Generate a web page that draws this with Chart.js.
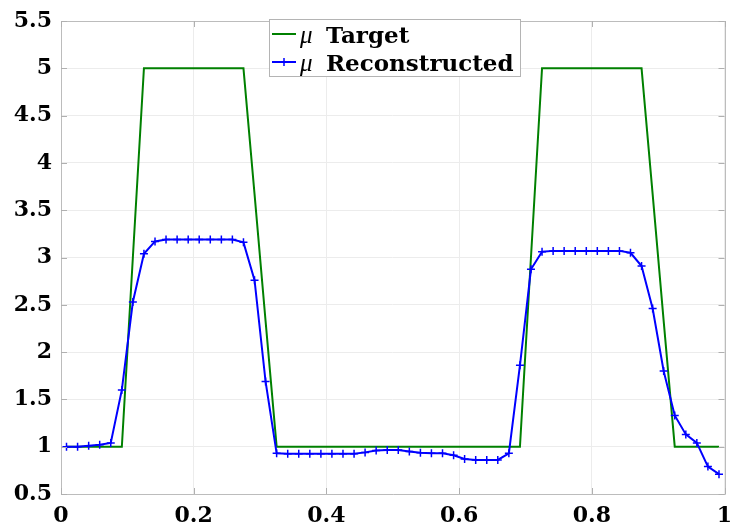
<!DOCTYPE html>
<html>
<head>
<meta charset="utf-8">
<script src="https://cdn.jsdelivr.net/npm/chart.js@4.4.1/dist/chart.umd.min.js"></script>
<style>
  html, body { margin: 0; padding: 0; background: #ffffff; }
  #wrap { width: 730px; height: 527px; }
</style>
</head>
<body>
<div id="wrap"><canvas id="c" width="730" height="527"></canvas></div>
<script>
// Sample positions along the domain
const xPositions = [
  0.0083, 0.0250, 0.0417, 0.0583, 0.0750, 0.0917, 0.1083, 0.1250, 0.1417, 0.1583,
  0.1750, 0.1917, 0.2083, 0.2250, 0.2417, 0.2583, 0.2750, 0.2917, 0.3083, 0.3250,
  0.3417, 0.3583, 0.3750, 0.3917, 0.4083, 0.4250, 0.4417, 0.4583, 0.4750, 0.4917,
  0.5083, 0.5250, 0.5417, 0.5583, 0.5750, 0.5917, 0.6083, 0.6250, 0.6417, 0.6583,
  0.6750, 0.6917, 0.7083, 0.7250, 0.7417, 0.7583, 0.7750, 0.7917, 0.8083, 0.8250,
  0.8417, 0.8583, 0.8750, 0.8917, 0.9083, 0.9250, 0.9417, 0.9583, 0.9750, 0.9917
];

// Target mu profile
const muTarget = [
  1, 1, 1, 1, 1, 1, 3, 5, 5, 5,
  5, 5, 5, 5, 5, 5, 5, 3.67, 2.33, 1,
  1, 1, 1, 1, 1, 1, 1, 1, 1, 1,
  1, 1, 1, 1, 1, 1, 1, 1, 1, 1,
  1, 1, 3, 5, 5, 5, 5, 5, 5, 5,
  5, 5, 5, 3.67, 2.33, 1, 1, 1, 1, 1
];

// Reconstructed mu profile
const muReconstructed = [
  1.00, 1.00, 1.01, 1.02, 1.04, 1.60, 2.53, 3.04, 3.17, 3.19,
  3.19, 3.19, 3.19, 3.19, 3.19, 3.19, 3.16, 2.76, 1.69, 0.93,
  0.925, 0.925, 0.925, 0.925, 0.925, 0.925, 0.925, 0.94, 0.96, 0.965,
  0.965, 0.95, 0.935, 0.93, 0.93, 0.91, 0.87, 0.86, 0.86, 0.86,
  0.93, 1.86, 2.875, 3.06, 3.07, 3.07, 3.07, 3.07, 3.07, 3.07,
  3.07, 3.05, 2.91, 2.46, 1.80, 1.33, 1.13, 1.04, 0.79, 0.71
];

// Axis tick values
const xTicks = [0, 0.2, 0.4, 0.6, 0.8, 1];
const yTicks = [0.5, 1, 1.5, 2, 2.5, 3, 3.5, 4, 4.5, 5, 5.5];

const seriesLabels = ['Target', 'Reconstructed'];
const seriesColors = ['#008000', '#0000ff'];

const FONT = '"DejaVu Serif", "Liberation Serif", serif';
const AXIS_COLOR = '#bcbcbc';
const GRID_COLOR = '#ececec';

const toPoints = (ys) => ys.map((y, i) => ({ x: xPositions[i], y: y }));

// Box frame, inner tick marks and the legend
const framePlugin = {
  id: 'frame',
  afterDraw(chart) {
    const ctx = chart.ctx;
    const a = chart.chartArea;
    const xs = chart.scales.x, ys = chart.scales.y;
    ctx.save();
    ctx.strokeStyle = AXIS_COLOR;
    ctx.lineWidth = 1;
    ctx.beginPath();
    ctx.rect(Math.round(a.left) + 0.5, Math.round(a.top) + 0.5,
             Math.round(a.right - a.left), Math.round(a.bottom - a.top));
    ctx.stroke();

    // inward ticks
    ctx.strokeStyle = '#b0b0b0';
    ctx.beginPath();
    yTicks.forEach(v => {
      const py = Math.round(ys.getPixelForValue(v)) + 0.5;
      ctx.moveTo(a.left, py); ctx.lineTo(a.left + 6, py);
      ctx.moveTo(a.right, py); ctx.lineTo(a.right - 6, py);
    });
    xTicks.forEach(v => {
      const px = Math.round(xs.getPixelForValue(v)) + 0.5;
      ctx.moveTo(px, a.bottom); ctx.lineTo(px, a.bottom - 6);
      ctx.moveTo(px, a.top); ctx.lineTo(px, a.top + 6);
    });
    ctx.stroke();

    // legend box
    const bx = 269.5, by = 19.5, bw = 251, bh = 57;
    ctx.fillStyle = '#ffffff';
    ctx.fillRect(bx, by, bw, bh);
    ctx.strokeStyle = '#b4b4b4';
    ctx.strokeRect(bx, by, bw, bh);

    const rows = [34, 62];
    rows.forEach((ry, k) => {
      ctx.strokeStyle = seriesColors[k];
      ctx.lineWidth = 2;
      ctx.beginPath();
      ctx.moveTo(272, ry); ctx.lineTo(296, ry);
      ctx.stroke();
      if (k === 1) {
        ctx.lineWidth = 1.5;
        ctx.beginPath();
        ctx.moveTo(284, ry - 4); ctx.lineTo(284, ry + 4);
        ctx.moveTo(280, ry); ctx.lineTo(288, ry);
        ctx.stroke();
      }
      ctx.fillStyle = '#000000';
      ctx.textBaseline = 'alphabetic';
      ctx.textAlign = 'left';
      ctx.font = 'italic 25px "Liberation Serif", serif';
      ctx.fillText('\u03bc', 300, ry + 9);
      ctx.font = 'bold 23px ' + FONT;
      ctx.fillText(seriesLabels[k], 326, ry + 9);
    });
    ctx.restore();
  }
};

new Chart(document.getElementById('c'), {
  type: 'line',
  data: {
    datasets: [
      {
        label: seriesLabels[0],
        data: toPoints(muTarget),
        borderColor: seriesColors[0],
        backgroundColor: seriesColors[0],
        borderWidth: 2,
        pointRadius: 0,
        tension: 0,
        order: 1
      },
      {
        label: seriesLabels[1],
        data: toPoints(muReconstructed),
        borderColor: seriesColors[1],
        backgroundColor: seriesColors[1],
        borderWidth: 2,
        pointStyle: 'cross',
        pointRadius: 4,
        pointBorderWidth: 1.5,
        tension: 0,
        order: 0
      }
    ]
  },
  options: {
    responsive: false,
    animation: false,
    layout: { padding: { top: 21, right: 5, left: 0, bottom: 0 } },
    plugins: { legend: { display: false }, tooltip: { enabled: false } },
    scales: {
      x: {
        type: 'linear',
        min: 0, max: 1,
        afterBuildTicks: (s) => { s.ticks = xTicks.map(v => ({ value: v })); },
        afterFit: (s) => { s.height = 33; s.paddingLeft = 0; s.paddingRight = 0; },
        grid: { color: GRID_COLOR, drawTicks: false, lineWidth: 1 },
        border: { display: false },
        ticks: {
          padding: 9,
          color: '#000000',
          font: { family: FONT, size: 22, weight: 'bold' },
          maxRotation: 0,
          callback: (v) => String(v)
        }
      },
      y: {
        type: 'linear',
        min: 0.5, max: 5.5,
        afterBuildTicks: (s) => { s.ticks = yTicks.map(v => ({ value: v })); },
        afterFit: (s) => { s.width = 61; s.paddingTop = 0; s.paddingBottom = 0; },
        grid: { color: GRID_COLOR, drawTicks: false, lineWidth: 1 },
        border: { display: false },
        ticks: {
          padding: 9,
          color: '#000000',
          font: { family: FONT, size: 22, weight: 'bold' },
          callback: (v) => String(v)
        }
      }
    }
  },
  plugins: [framePlugin]
});
</script>
</body>
</html>
